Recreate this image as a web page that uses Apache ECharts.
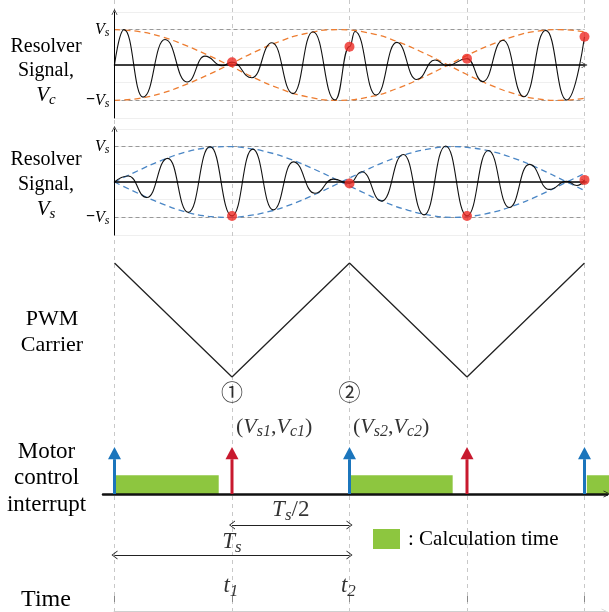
<!DOCTYPE html>
<html>
<head>
<meta charset="utf-8">
<script src="https://cdn.jsdelivr.net/npm/echarts@6.0.0/dist/echarts.min.js"></script>
<style>
  html, body { margin: 0; padding: 0; background: #fff; }
  #chart { width: 609px; height: 612px; }
</style>
</head>
<body>
<div id="chart"></div>
<script>
// ---- data (time in units of Ts/2, voltage in units of Vs) ----
const timeTicks = [0, 1, 2, 3, 4];
const vsLevels = [1, -1];

// resolver cosine signal Vc : extremes
const vcWave = [[0,0],[0.081,1.0],[0.243,-0.91],[0.43,0.72],[0.617,-0.48],[0.77,0.25],[0.915,-0.02],
  [1.0,0.08],[1.17,-0.36],[1.34,0.63],[1.519,-0.81],[1.689,0.94],[1.877,-0.99],[2.0,0.52],[2.047,0.95],
  [2.226,-0.85],[2.402,0.64],[2.572,-0.41],[2.728,0.14],[2.83,-0.02],[3.0,0.18],[3.134,-0.47],
  [3.306,0.70],[3.485,-0.90],[3.67,0.98],[3.849,-0.99],[4.0,0.8]];
const vcEnvUpper = [[0,1.0],[0.2,0.95],[0.4,0.8],[0.6,0.56],[0.8,0.27],[0.97,0],[1.2,-0.38],[1.4,-0.66],
  [1.6,-0.87],[1.9,-1.0],[2.2,-0.88],[2.4,-0.67],[2.6,-0.39],[2.84,0],[3.0,0.27],[3.2,0.57],[3.4,0.81],
  [3.6,0.96],[3.78,1.0],[4.0,0.94]];
const vcEnvLower = [[0,-1.0],[0.2,-0.95],[0.4,-0.8],[0.6,-0.56],[0.8,-0.27],[0.97,0],[1.2,0.38],[1.4,0.66],
  [1.6,0.87],[1.9,1.0],[2.2,0.88],[2.4,0.67],[2.6,0.39],[2.84,0],[3.0,-0.27],[3.2,-0.57],[3.4,-0.81],
  [3.6,-0.96],[3.78,-1.0],[4.0,-0.94]];
const vcSamples = [[1,0.08],[2,0.52],[3,0.18],[4,0.8]];

// resolver sine signal Vs
const vsWave = [[0,0],[0.117,0.17],[0.274,-0.44],[0.453,0.67],[0.628,-0.86],[0.813,1.0],[1.0,-0.96],
  [1.176,0.93],[1.351,-0.79],[1.522,0.57],[1.706,-0.32],[1.862,0.08],[2.0,-0.04],[2.104,0.29],
  [2.274,-0.54],[2.458,0.78],[2.634,-0.93],[2.819,1.02],[3.0,-0.96],[3.181,0.89],[3.36,-0.72],
  [3.53,0.5],[3.7,-0.21],[3.849,0.02],[3.936,-0.1],[4.0,0.06]];
const vsEnvUpper = [[0,0],[0.2,0.32],[0.4,0.61],[0.6,0.84],[0.8,0.97],[0.965,1.0],[1.1,0.97],[1.3,0.85],
  [1.5,0.64],[1.7,0.36],[1.93,0],[2.1,-0.27],[2.3,-0.57],[2.5,-0.8],[2.7,-0.95],[2.89,-1.0],[3.0,-0.98],
  [3.2,-0.87],[3.4,-0.67],[3.6,-0.4],[3.85,0],[4.0,0.24]];
const vsEnvLower = [[0,0],[0.2,-0.32],[0.4,-0.61],[0.6,-0.84],[0.8,-0.97],[0.965,-1.0],[1.1,-0.97],[1.3,-0.85],
  [1.5,-0.64],[1.7,-0.36],[1.93,0],[2.1,0.27],[2.3,0.57],[2.5,0.8],[2.7,0.95],[2.89,1.0],[3.0,0.98],
  [3.2,0.87],[3.4,0.67],[3.6,0.4],[3.85,0],[4.0,-0.24]];
const vsSamples = [[1,-0.96],[2,-0.04],[3,-0.96],[4,0.06]];

// PWM triangle carrier (1 = top, 0 = bottom)
const pwmCarrier = [[0,1],[1,0],[2,1],[3,0],[4,1]];

// interrupts and calculation blocks
const interruptTimes = [0, 1, 2, 3, 4];
const interruptKinds = ['top', 'bottom', 'top', 'bottom', 'top'];
const calcBlocks = [[0.004,0.887],[2.01,2.878],[4.02,4.4]];

// ---- layout ----
const W = 609, O = 114.5, U = 117.5;      // t = 0 pixel, pixels per Ts/2
const xr = (l, r) => ({ min: (l - O) / U, max: (r - O) / U });
const serif = 'Liberation Serif';
const chevron = 'path://M0,10 L5,0 L10,10 L9,10 L5,2.2 L1,10 Z';
const colors = { top: '#1b75bc', bottom: '#c8192e', green: '#8dc63f', orange: '#ed7d31', blue: '#4a86c5', dot: '#ee2a24' };

function math(size) {
  return {
    i: { fontFamily: serif, fontStyle: 'italic', fontSize: size, lineHeight: size * 1.2, color: '#000' },
    n: { fontFamily: serif, fontSize: size, lineHeight: size * 1.2, color: '#000' },
    m: { fontFamily: serif, fontSize: size, fontWeight: 'bold', lineHeight: size * 1.2, color: '#000' },
    s: { fontFamily: serif, fontStyle: 'italic', fontSize: Math.round(size * 0.72), lineHeight: size * 0.72,
         padding: [size * 0.45, 0, 0, 0], color: '#000' }
  };
}

const chart = echarts.init(document.getElementById('chart'), null, { renderer: 'canvas' });

function panelX(g) {
  return { type: 'value', gridIndex: g, min: 0, max: 4, interval: 1, z: 5,
    axisLine: { show: true, onZero: true, symbol: ['none', chevron], symbolSize: [8, 6], lineStyle: { color: '#000', width: 1.5 } },
    axisTick: { show: false }, axisLabel: { show: false }, splitLine: { show: false } };
}
function panelY(g) {
  return { type: 'value', gridIndex: g, min: -1.5, max: 1.5, interval: 0.5, z: 5,
    axisLine: { show: true, symbol: ['none', chevron], symbolSize: [8, 6], lineStyle: { color: '#000', width: 1 } },
    axisTick: { show: false },
    axisLabel: { margin: 5, rich: math(16),
      formatter: v => v === 1 ? '{i|V}{s|s}' : (v === -1 ? '{m|\u2212}{i|V}{s|s}' : '') },
    splitLine: { show: false } };
}
// faint horizontal grid behind the signals
function panelGridY(g) {
  return { type: 'value', gridIndex: g, position: 'right', min: -1.5, max: 1.5, interval: 0.5, z: 0,
    axisLine: { show: false }, axisTick: { show: false }, axisLabel: { show: false },
    splitLine: { show: true, lineStyle: { color: '#efefef', width: 1 } } };
}
function hidden(axis) {
  return Object.assign({ type: 'value', axisLine: { show: false }, axisTick: { show: false },
    axisLabel: { show: false }, splitLine: { show: false } }, axis);
}
function wave(name, data, g, levels) {
  const s = { name, type: 'line', xAxisIndex: g, yAxisIndex: g, data, smooth: 0.5, smoothMonotone: 'x',
    symbol: 'none', lineStyle: { color: '#111', width: 1.1 }, z: 4, silent: true };
  if (levels) s.markLine = { silent: true, symbol: 'none', label: { show: false }, z: 2,
    lineStyle: { color: '#999', type: [4, 3], width: 1 }, data: levels.map(v => ({ yAxis: v })) };
  return s;
}
function envelope(data, g, color) {
  return { type: 'line', xAxisIndex: g, yAxisIndex: g, data, smooth: true, symbol: 'none', silent: true,
    lineStyle: { color, width: 1.3, type: [6, 4] }, z: 3 };
}
function dots(data, g) {
  return { type: 'scatter', xAxisIndex: g, yAxisIndex: g, data, symbolSize: 10, itemStyle: { color: colors.dot }, z: 6, silent: true };
}
function note(t, y, text, rich, align) {
  return { value: [t, y], label: { show: true, position: 'inside', formatter: text, rich,
    align: align || 'center', verticalAlign: 'middle' } };
}

const bg = xr(O, W), intr = xr(103, 607), tm = xr(O, 605);
const circled = { c: { fontFamily: 'Noto Sans CJK SC', fontSize: 22, color: '#000' } };

chart.setOption({
  animation: false,
  grid: [
    { left: O, right: 0, top: 0, bottom: 0, outerBoundsMode: 'none' },                 // 0 background
    { left: O, width: 4 * U, top: 12, height: 106, outerBoundsMode: 'none' },         // 1 Vc
    { left: O, width: 4 * U, top: 129, height: 106, outerBoundsMode: 'none' },        // 2 Vs
    { left: O, width: 4 * U, top: 263, height: 114, outerBoundsMode: 'none' },        // 3 PWM
    { left: 103, right: W - 607, top: 447, height: 47, outerBoundsMode: 'none' },     // 4 interrupt
    { left: O, right: W - 605, top: 602, height: 10, outerBoundsMode: 'none' }        // 5 time
  ],
  xAxis: [
    hidden({ gridIndex: 0, min: bg.min, max: bg.max }),
    panelX(1), panelX(2),
    hidden({ gridIndex: 3, min: 0, max: 4 }),
    { type: 'value', gridIndex: 4, min: intr.min, max: intr.max, z: 5,
      axisLine: { show: true, onZero: true, symbol: ['none', chevron], symbolSize: [9, 7], lineStyle: { color: '#111', width: 2.5 } },
      axisTick: { show: false }, axisLabel: { show: false }, splitLine: { show: false } },
    { type: 'value', gridIndex: 5, position: 'top', min: tm.min, max: tm.max, z: 5,
      axisLine: { show: true, symbol: ['none', chevron], symbolSize: [10, 7], lineStyle: { color: '#cfcfcf', width: 2 } },
      axisTick: { show: true, inside: true, length: 10, customValues: timeTicks, lineStyle: { color: '#888' } },
      axisLabel: { show: false }, splitLine: { show: false } },
    { type: 'value', gridIndex: 5, position: 'top', min: tm.min, max: tm.max, z: 5,
      axisLine: { show: false },
      axisTick: { show: true, inside: false, length: 6, customValues: timeTicks, lineStyle: { color: '#888' } },
      axisLabel: { show: false }, splitLine: { show: false } }
  ],
  yAxis: [
    hidden({ gridIndex: 0, min: 0, max: 612, inverse: true }),
    panelY(1), panelY(2),
    hidden({ gridIndex: 3, min: 0, max: 1 }),
    hidden({ gridIndex: 4, min: 0, max: 1 }),
    hidden({ gridIndex: 5, min: 0, max: 1 }),
    panelGridY(1), panelGridY(2)
  ],
  graphic: [
    ...[['Resolver', 47], ['Signal,', 71]].map(([t, y]) => ({ type: 'text', x: 46, y,
      style: { text: t, font: '20px ' + serif, fill: '#000', align: 'center', verticalAlign: 'middle' } })),
    { type: 'text', x: 46, y: 95, style: { text: '{i|V}{s|c}', rich: math(21), align: 'center', verticalAlign: 'middle' } },
    ...[['Resolver', 160], ['Signal,', 185]].map(([t, y]) => ({ type: 'text', x: 46, y,
      style: { text: t, font: '20px ' + serif, fill: '#000', align: 'center', verticalAlign: 'middle' } })),
    { type: 'text', x: 46, y: 209, style: { text: '{i|V}{s|s}', rich: math(21), align: 'center', verticalAlign: 'middle' } },
    ...[['PWM', 319], ['Carrier', 345]].map(([t, y]) => ({ type: 'text', x: 52, y,
      style: { text: t, font: '22px ' + serif, fill: '#000', align: 'center', verticalAlign: 'middle' } })),
    ...[['Motor', 452], ['control', 478], ['interrupt', 505]].map(([t, y]) => ({ type: 'text', x: 46.5, y,
      style: { text: t, font: '23px ' + serif, fill: '#000', align: 'center', verticalAlign: 'middle' } })),
    { type: 'text', x: 46, y: 600, style: { text: 'Time', font: '24px ' + serif, fill: '#000', align: 'center', verticalAlign: 'middle' } },
    { type: 'rect', shape: { x: 373, y: 529, width: 27, height: 20 }, style: { fill: colors.green } },
    { type: 'text', x: 408, y: 539, style: { text: ': Calculation time', font: '21px ' + serif, fill: '#000', align: 'left', verticalAlign: 'middle' } }
  ],
  series: [
    // background: vertical dashed time markers, dimension arrows, text notes
    { type: 'scatter', xAxisIndex: 0, yAxisIndex: 0, symbolSize: 0, silent: true, z: 1,
      data: [
        note(1, 392, '{c|\u2460}', circled),
        note(2, 392, '{c|\u2461}', circled),
        note(1.034, 427, '{n|(}{i|V}{s|s1}{n|,}{i|V}{s|c1}{n|)}', math(22), 'left'),
        note(2.03, 427, '{n|(}{i|V}{s|s2}{n|,}{i|V}{s|c2}{n|)}', math(22), 'left'),
        note(1.5, 510, '{i|T}{s|s}{n|/2}', math(23)),
        note(1, 542, '{i|T}{s|s}', math(23)),
        note(0.99, 586, '{i|t}{s|1}', math(23)),
        note(1.99, 586, '{i|t}{s|2}', math(23))
      ],
      markLine: { silent: true, symbol: 'none', label: { show: false }, z: 1,
        lineStyle: { color: '#c8c8c8', type: [4, 4], width: 1 },
        data: timeTicks.map(t => ({ xAxis: t })) } },
    { type: 'line', xAxisIndex: 0, yAxisIndex: 0, data: [], silent: true, z: 2,
      markLine: { silent: true, symbol: [chevron, chevron], symbolSize: [9, 6], label: { show: false }, z: 2,
        lineStyle: { color: '#222', type: 'solid', width: 1 },
        data: [[{ coord: [1, 525] }, { coord: [2, 525] }], [{ coord: [0, 555] }, { coord: [2, 555] }]] } },

    // resolver signals
    envelope(vcEnvUpper, 1, colors.orange), envelope(vcEnvLower, 1, colors.orange),
    wave('Vc', vcWave, 1, vsLevels), dots(vcSamples, 1),
    envelope(vsEnvUpper, 2, colors.blue), envelope(vsEnvLower, 2, colors.blue),
    wave('Vs', vsWave, 2, vsLevels), dots(vsSamples, 2),

    // PWM carrier
    { type: 'line', xAxisIndex: 3, yAxisIndex: 3, data: pwmCarrier, symbol: 'none', silent: true, z: 3,
      lineStyle: { color: '#222', width: 1.3 } },

    // calculation time blocks
    { type: 'custom', xAxisIndex: 4, yAxisIndex: 4, data: calcBlocks, silent: true, z: 3,
      renderItem: (p, api) => {
        const a = api.coord([api.value(0), 0.4]), b = api.coord([api.value(1), 0]);
        return { type: 'rect', shape: { x: a[0], y: a[1], width: b[0] - a[0], height: b[1] - a[1] },
          style: { fill: colors.green } };
      } },
    // interrupt arrows
    { type: 'custom', xAxisIndex: 4, yAxisIndex: 4, data: interruptTimes.map(t => [t, 1]), silent: true, z: 6,
      renderItem: (p, api) => {
        const t = api.value(0), c = colors[interruptKinds[p.dataIndex]];
        const base = api.coord([t, 0]), neck = api.coord([t, 0.74]), tip = api.coord([t, 1]);
        return { type: 'group', children: [
          { type: 'rect', shape: { x: base[0] - 1.5, y: neck[1], width: 3, height: base[1] - neck[1] }, style: { fill: c } },
          { type: 'polygon', shape: { points: [[tip[0], tip[1]], [tip[0] - 6.5, neck[1]], [tip[0] + 6.5, neck[1]]] }, style: { fill: c } }
        ] };
      } }
  ]
});
</script>
</body>
</html>
